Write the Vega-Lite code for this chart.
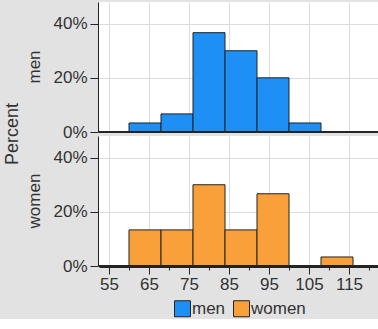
{
  "$schema": "https://vega.github.io/schema/vega-lite/v6.json",
  "background": "#e2e2e2",
  "padding": {"left": 3, "top": 2, "right": 0, "bottom": 0},
  "data": {
    "values": [
      {"gender": "men", "bin_start": 60, "bin_end": 68, "percent": 0.0333},
      {"gender": "men", "bin_start": 68, "bin_end": 76, "percent": 0.0667},
      {"gender": "men", "bin_start": 76, "bin_end": 84, "percent": 0.3667},
      {"gender": "men", "bin_start": 84, "bin_end": 92, "percent": 0.30},
      {"gender": "men", "bin_start": 92, "bin_end": 100, "percent": 0.20},
      {"gender": "men", "bin_start": 100, "bin_end": 108, "percent": 0.0333},
      {"gender": "women", "bin_start": 60, "bin_end": 68, "percent": 0.1333},
      {"gender": "women", "bin_start": 68, "bin_end": 76, "percent": 0.1333},
      {"gender": "women", "bin_start": 76, "bin_end": 84, "percent": 0.30},
      {"gender": "women", "bin_start": 84, "bin_end": 92, "percent": 0.1333},
      {"gender": "women", "bin_start": 92, "bin_end": 100, "percent": 0.2667},
      {"gender": "women", "bin_start": 108, "bin_end": 116, "percent": 0.0333}
    ]
  },
  "facet": {
    "row": {
      "field": "gender",
      "type": "nominal",
      "sort": ["men", "women"],
      "title": "Percent",
      "header": {
        "labelOrient": "left",
        "labelAngle": -90,
        "labelFont": "Liberation Sans",
        "labelFontSize": 17,
        "labelColor": "#333",
        "labelPadding": 1,
        "titleOrient": "left",
        "titleFont": "Liberation Sans",
        "titleFontSize": 18,
        "titleFontWeight": "normal",
        "titleColor": "#333",
        "titlePadding": -7
      }
    }
  },
  "spacing": 3,
  "spec": {
    "width": 286,
    "height": 130,
    "layer": [
      {
        "mark": {"type": "bar", "stroke": "#222", "strokeWidth": 1},
        "encoding": {
          "x": {
            "field": "bin_start",
            "type": "quantitative",
            "scale": {"domain": [52.5, 124], "nice": false, "zero": false},
            "axis": {
              "title": null,
              "values": [55, 60, 65, 70, 75, 80, 85, 90, 95, 100, 105, 110, 115, 120],
              "labelExpr": "(datum.value - 55) % 10 === 0 ? datum.label : ''",
              "tickSize": {"condition": {"test": "(datum.value - 55) % 10 === 0", "value": 7}, "value": 3},
              "gridOpacity": {"condition": {"test": "(datum.value - 55) % 10 === 0", "value": 1}, "value": 0},
              "grid": true,
              "labelFlush": false,
              "labelOverlap": false,
              "labelPadding": 2
            }
          },
          "x2": {"field": "bin_end"},
          "y": {
            "field": "percent",
            "type": "quantitative",
            "scale": {"domain": [0, 0.48], "nice": false},
            "axis": {
              "title": null,
              "values": [0, 0.05, 0.1, 0.15, 0.2, 0.25, 0.3, 0.35, 0.4, 0.45],
              "format": ".0%",
              "labelExpr": "round(datum.value * 100) % 20 === 0 ? datum.label : ''",
              "tickSize": {"condition": {"test": "round(datum.value * 100) % 20 === 0", "value": 8}, "value": 3},
              "gridOpacity": {"condition": {"test": "round(datum.value * 100) % 20 === 0", "value": 1}, "value": 0},
              "grid": true,
              "labelFlush": false,
              "labelOverlap": false,
              "labelPadding": 3
            }
          },
          "y2": {"datum": 0},
          "color": {
            "field": "gender",
            "type": "nominal",
            "scale": {"domain": ["men", "women"], "range": ["#1e8ff5", "#f9a03a"]},
            "legend": {
              "title": null,
              "orient": "none",
              "legendX": 75,
              "legendY": 298,
              "direction": "horizontal",
              "symbolType": "square",
              "symbolSize": 256,
              "symbolStrokeColor": "#222",
              "symbolStrokeWidth": 1,
              "symbolOpacity": 1,
              "symbolFillOpacity": 1,
              "labelFont": "Liberation Sans",
              "labelFontSize": 17,
              "labelColor": "#333",
              "labelOffset": 1,
              "columnPadding": 5
            }
          }
        }
      },
      {
        "mark": {"type": "rule", "color": "#222", "strokeWidth": 1},
        "encoding": {"y": {"datum": 0}}
      }
    ]
  },
  "config": {
    "view": {"fill": "white", "stroke": null},
    "axis": {
      "domainColor": "#222",
      "tickColor": "#222",
      "gridColor": "#dcdcdc",
      "labelFont": "Liberation Sans",
      "labelFontSize": 17,
      "labelColor": "#333"
    }
  }
}
